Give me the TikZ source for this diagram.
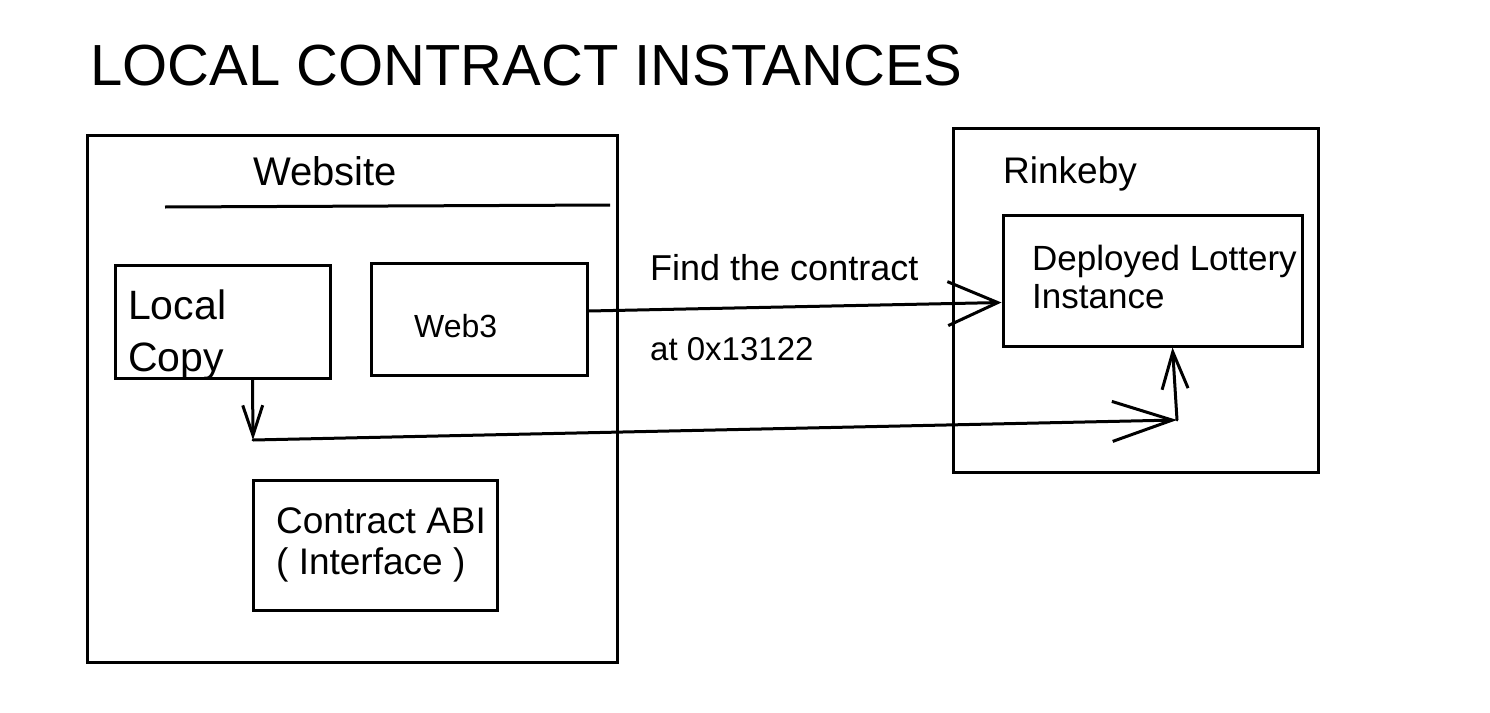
\documentclass[tikz,border=0pt]{standalone}
\usepackage{fontspec}
\setmainfont{Liberation Sans}
\usetikzlibrary{arrows.meta}

\begin{document}
\begin{tikzpicture}[x=1pt, y=-1pt,
    box/.style={draw, line width=3pt, inner sep=0pt},
    txt/.style={inner sep=0pt, anchor=base west},
    multitxt/.style={inner sep=0pt, anchor=north west, align=left},
    sketcharrow/.style 2 args={draw, line width=3pt, line cap=round,
      arrows={-Straight Barb[length=#1, width=#2]}}]
  \useasboundingbox (0,0) rectangle (1490,712);

  \node[txt, font=\fontsize{58}{60}\selectfont] (title) at (90,85) {LOCAL CONTRACT INSTANCES};

  \node[box, minimum width=530pt, minimum height=527pt] (website) at (352,398.5) {};
  \node[box, minimum width=215pt, minimum height=113pt] (local) at (222.5,321.5) {};
  \node[box, minimum width=216pt, minimum height=112pt] (web3) at (479,319) {};
  \node[box, minimum width=244pt, minimum height=130pt] (abi) at (375,545) {};
  \node[box, minimum width=365pt, minimum height=344pt] (rinkeby) at (1135.5,300) {};
  \node[box, minimum width=299pt, minimum height=131pt] (deployed) at (1152.5,280.5) {};

  \node[txt, font=\fontsize{40}{48}\selectfont] (websitetxt) at (253,185) {Website};
  \path[draw, line width=3pt] (165,207) -- (610,205);
  \node[txt, font=\fontsize{37}{44}\selectfont] (rinkebytxt) at (1003,183) {Rinkeby};
  \node[multitxt, font=\fontsize{41}{52}\selectfont] (localtxt) at (128,290) {Local\\Copy};
  \node[txt, font=\fontsize{32}{38}\selectfont] (web3txt) at (414,337) {Web3};
  \node[multitxt, font=\fontsize{37}{41}\selectfont] (abitxt) at (276,507) {Contract ABI\\( Interface )};
  \node[multitxt, font=\fontsize{35}{38}\selectfont] (deployedtxt) at (1032,245) {Deployed Lottery\\Instance};
  \node[txt, font=\fontsize{36}{42}\selectfont] (findtxt) at (650,280) {Find the contract};
  \node[txt, font=\fontsize{33}{40}\selectfont] (attxt) at (650,360) {at 0x13122};

  \coordinate (drop) at (253,440);
  \coordinate (turn) at (1177,420);
  \path[sketcharrow={50pt}{44pt}] ([yshift=8pt]web3.east) -- ([yshift=-22pt]deployed.west);
  \path[sketcharrow={30pt}{20pt}] ([xshift=30pt]local.south) -- (drop);
  \path[sketcharrow={60pt}{40pt}] (drop) -- (turn);
  \path[sketcharrow={37pt}{26pt}] (turn) -- ([xshift=20pt]deployed.south);
\end{tikzpicture}
\end{document}
